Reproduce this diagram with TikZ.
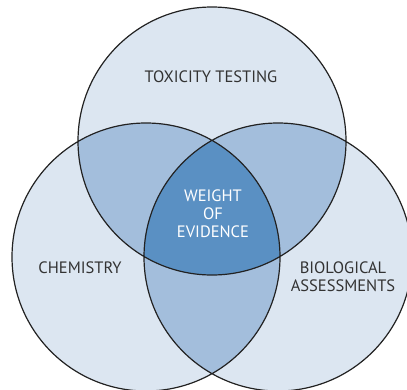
\documentclass[tikz,border=0pt]{standalone}
\usepackage{fontspec}
\setmainfont{PT Sans}
\definecolor{lightc}{HTML}{DCE6F1}
\definecolor{midc}{HTML}{A3BEDC}
\definecolor{darkc}{HTML}{5A90C3}
\definecolor{edgec}{HTML}{222222}
\definecolor{textc}{HTML}{333333}
\tikzset{
  lbl/.style={text=textc, font=\fontsize{16.5}{18}\selectfont, align=center, inner sep=0pt},
  wlbl/.style={text=white, font=\fontsize{16.5}{18}\selectfont, align=center, inner sep=0pt},
  ring/.style={draw=edgec, line width=1.2pt}
}
\begin{document}
\begin{tikzpicture}[x=1pt,y=-1pt]
\useasboundingbox (0,0) rectangle (407,389);
\clip (0,0) rectangle (407,389);
\def\R{134}
\coordinate (T) at (212,141);
\coordinate (L) at (146,257);
\coordinate (Rc) at (278,257);
\fill[lightc] (T) circle (\R) (L) circle (\R) (Rc) circle (\R);
\begin{scope}
  \clip (T) circle (\R);
  \fill[midc] (L) circle (\R) (Rc) circle (\R);
\end{scope}
\begin{scope}
  \clip (L) circle (\R);
  \fill[midc] (Rc) circle (\R);
\end{scope}
\begin{scope}
  \clip (T) circle (\R);
  \clip (L) circle (\R);
  \fill[darkc] (Rc) circle (\R);
\end{scope}
\draw[ring] (T) circle (\R) (L) circle (\R) (Rc) circle (\R);
\node[lbl] (tox) at (211,77) {TOXICITY TESTING};
\node[lbl] (chem) at (80,268) {CHEMISTRY};
\node[lbl] (bio) at (343,277) {BIOLOGICAL\\ASSESSMENTS};
\node[wlbl] (woe) at (213,214) {WEIGHT\\OF\\EVIDENCE};
\end{tikzpicture}
\end{document}
